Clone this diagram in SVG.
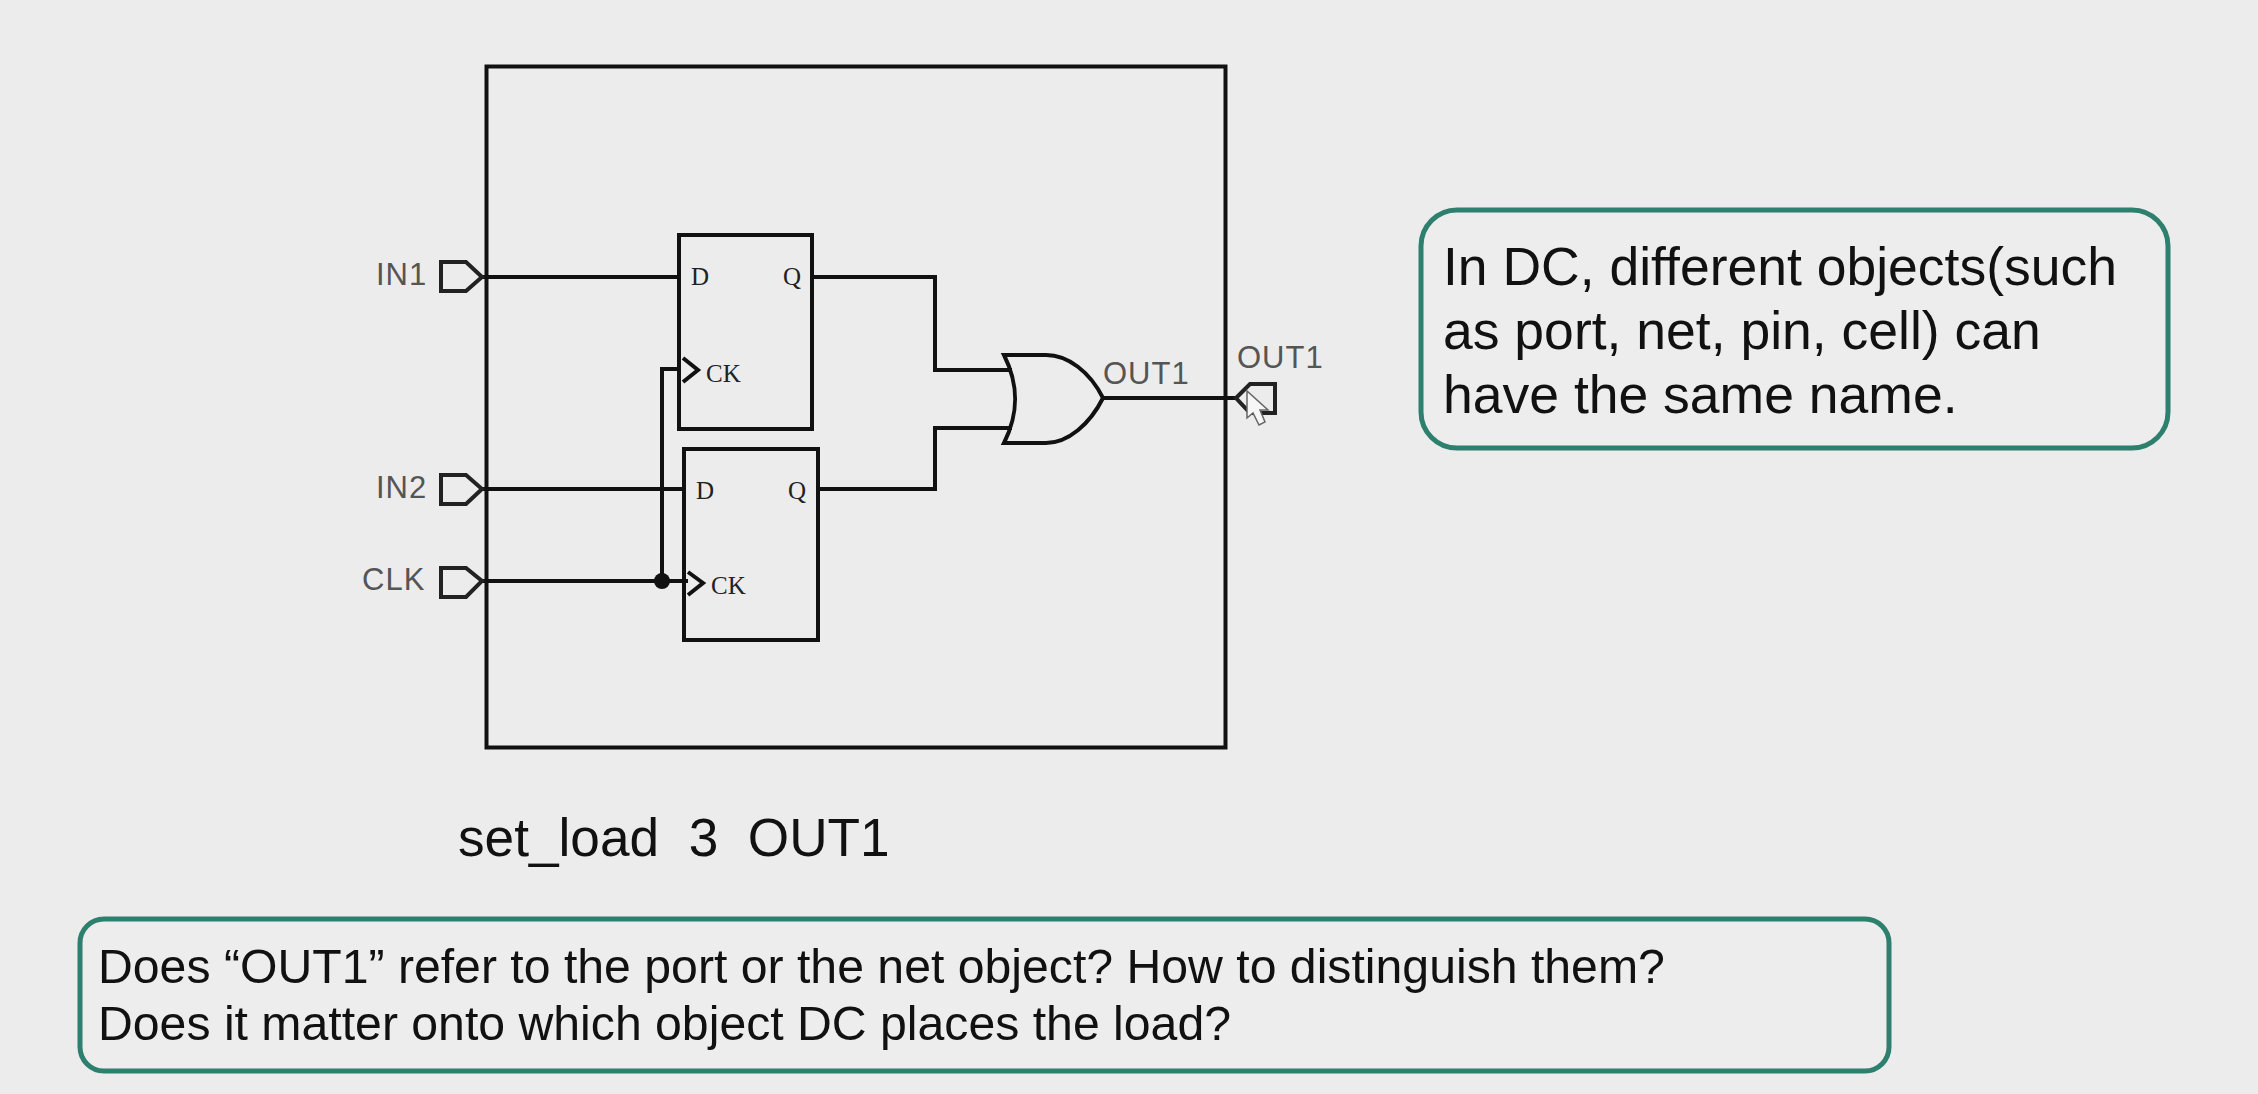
<svg xmlns="http://www.w3.org/2000/svg" width="2258" height="1094" viewBox="0 0 2258 1094">
<style>
.w{fill:none;stroke:#111;stroke-width:4;stroke-linejoin:miter}
.b{fill:none;stroke:#111;stroke-width:4}
.p{fill:none;stroke:#222;stroke-width:4}
.l{font-family:"Liberation Sans",Arial,sans-serif;font-size:31px;letter-spacing:1px;fill:#555}
.s{font-family:"Liberation Serif","Times New Roman",serif;font-size:25px;fill:#222}
.t{font-family:"Liberation Sans",Arial,sans-serif;fill:#111}
.c{fill:#ededed;stroke:#2d7f6e;stroke-width:5}
</style>
<rect width="2258" height="1094" fill="#ececec"/>
<g id="frame"><rect x="486.500" y="66.500" width="739" height="681" fill="none" stroke="#111" stroke-width="4"/></g>
<g id="connectors">
<path class="w" d="M482 277H679"/>
<path class="w" d="M482 489H684"/>
<path class="w" d="M482 581H688"/>
<path class="w" d="M662 581V369H681"/>
<path class="w" d="M812 277H935V370H1012"/>
<path class="w" d="M818 489H935V428H1012"/>
<path class="w" d="M1103 398H1236"/>
<circle cx="662" cy="581" r="8" fill="#111"/>
</g>
<g id="port-in1"><path class="p" d="M441 262H466L482 277L466 291H441Z"/><text class="l" x="376" y="285">IN1</text></g>
<g id="port-in2"><path class="p" d="M441 475H466L482 489L466 504H441Z"/><text class="l" x="376" y="498">IN2</text></g>
<g id="port-clk"><path class="p" d="M441 568H466L482 581L466 597H441Z"/><text class="l" x="362" y="590">CLK</text></g>
<g id="ff1"><rect class="b" x="679" y="235" width="133" height="194"/><path class="b" d="M683 358L698 370L683 382"/><text class="s" x="691" y="285">D</text><text class="s" x="783" y="285">Q</text><text class="s" x="706" y="382">CK</text></g>
<g id="ff2"><rect class="b" x="684" y="449" width="134" height="191"/><path class="b" d="M688 572L703 583L688 595"/><text class="s" x="696" y="499">D</text><text class="s" x="788" y="499">Q</text><text class="s" x="711" y="594">CK</text></g>
<g id="or-gate"><path class="b" d="M1004 355H1046C1068 355 1090 372 1103 398C1090 424 1068 443 1046 443H1004C1019 413 1019 385 1004 355Z"/></g>
<g id="net-label"><text class="l" x="1103" y="384">OUT1</text></g>
<g id="port-out1"><path class="p" d="M1236 398L1250 384H1275V413H1250Z"/><text class="l" x="1237" y="368">OUT1</text>
<path d="M1247 391V418L1253 413L1259 425L1265 422L1260 410L1268 410Z" fill="#f6f6f6" stroke="#666" stroke-width="1.500"/></g>
<g id="note-same-name"><rect class="c" x="1421" y="210" width="747" height="238" rx="36"/>
<text class="t" x="1443" y="285" font-size="53.500">In DC, different objects(such</text>
<text class="t" x="1443" y="349" font-size="53.500">as port, net, pin, cell) can</text>
<text class="t" x="1443" y="413" font-size="53.500">have the same name.</text></g>
<g id="command"><text class="t" x="458" y="856" font-size="53.200" xml:space="preserve">set_load  3  OUT1</text></g>
<g id="note-question"><rect class="c" x="80" y="919" width="1809" height="152" rx="24"/>
<text class="t" x="98" y="983" font-size="48.200">Does “OUT1” refer to the port or the net object? How to distinguish them?</text>
<text class="t" x="98" y="1040" font-size="48.200">Does it matter onto which object DC places the load?</text></g>
</svg>
